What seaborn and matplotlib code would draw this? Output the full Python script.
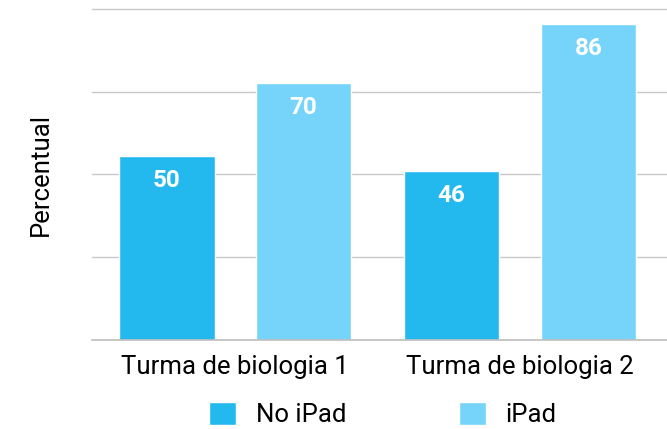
import numpy as np
import pandas as pd
import matplotlib
matplotlib.use("Agg")
import matplotlib.pyplot as plt
import seaborn as sns

turmas = ["Turma de biologia 1", "Turma de biologia 2"]
grupos = ["No iPad", "iPad"]
sem_ipad = [50, 46]
com_ipad = [70, 86]
cores = ["#24B9EE", "#76D4FB"]

df = pd.DataFrame({
    "turma": turmas * 2,
    "grupo": [grupos[0]] * 2 + [grupos[1]] * 2,
    "valor": sem_ipad + com_ipad,
})

sns.set_theme(style="white")
plt.rcParams["font.family"] = ["Roboto", "DejaVu Sans"]
plt.rcParams["text.color"] = "black"
plt.rcParams["axes.labelcolor"] = "black"
plt.rcParams["xtick.color"] = "black"

fig = plt.figure(figsize=(6.67, 4.29), dpi=100)
ax = fig.add_axes([0.138, 0.2075, 0.862, 0.7715])

sns.barplot(data=df, x="turma", y="valor", hue="grupo", palette=cores,
            width=0.961, gap=0.3, saturation=1, ax=ax)

# value labels inside the top of each bar
for c in ax.containers:
    ax.bar_label(c, fmt="%d", padding=-26, color="white",
                 fontsize=17.5, fontweight="bold")

ax.set_ylim(0, 90)
ax.set_xlim(-0.502, 1.516)
ax.set_yticks([])
for y in [22.5, 45, 67.5, 90]:
    ax.axhline(y, color="#C8C8C8", lw=1, clip_on=False, zorder=0)

for s in ["top", "right", "left"]:
    ax.spines[s].set_visible(False)
ax.spines["bottom"].set_color("#BDBDBD")
ax.spines["bottom"].set_linewidth(1.2)

ax.set_xlabel("")
ax.set_ylabel("Percentual", fontsize=18.5, labelpad=28)
ax.tick_params(axis="x", length=0, pad=11, labelsize=18.5)

ax.get_legend().remove()
h, l = ax.get_legend_handles_labels()
fig.legend(h, l, loc="center", bbox_to_anchor=(0.574, 0.034), ncol=2,
           frameon=False, fontsize=18.5, handlelength=1.05, handleheight=1.05,
           handletextpad=0.75, columnspacing=4.4)

fig.savefig("out.png", dpi=100)
